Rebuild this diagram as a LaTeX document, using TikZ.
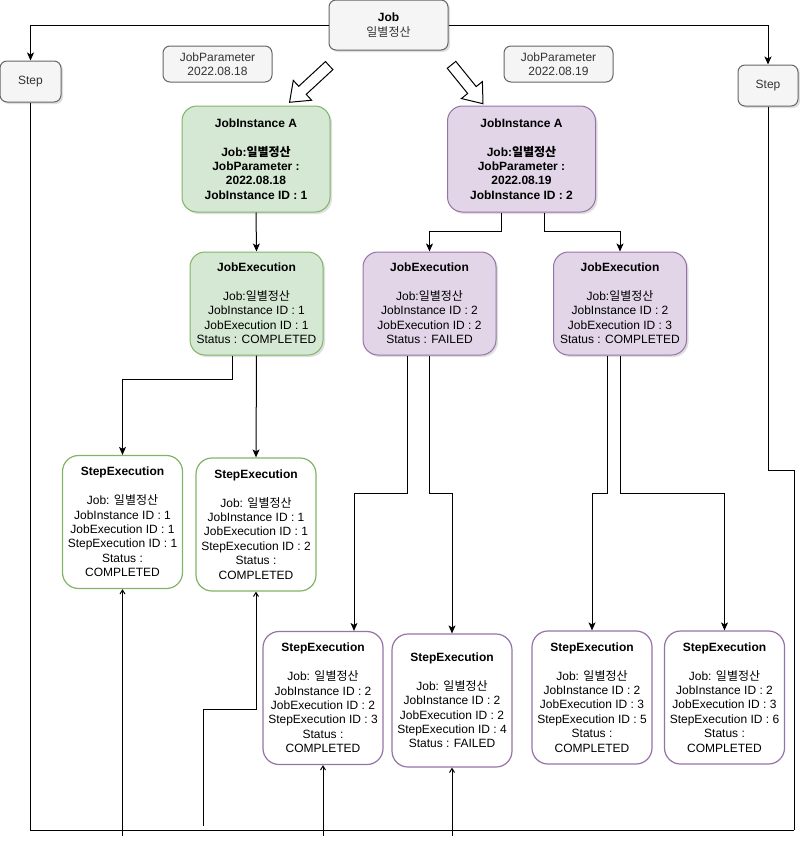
\documentclass[tikz,border=0pt]{standalone}
\usepackage{fontspec}
\setmainfont{Liberation Sans}
\newfontfamily\kr{Noto Sans CJK KR}
\newcommand{\ilbyul}{{\kr 일별정산}}
\usetikzlibrary{arrows.meta,shapes.arrows,shadows}
\definecolor{greyfill}{HTML}{F5F5F5}
\definecolor{greyline}{HTML}{666666}
\definecolor{greytext}{HTML}{333333}
\definecolor{greenfill}{HTML}{D5E8D4}
\definecolor{greenline}{HTML}{82B366}
\definecolor{purplefill}{HTML}{E1D5E7}
\definecolor{purpleline}{HTML}{9673A6}

\begin{document}
\begin{tikzpicture}[x=1pt,y=-1pt,font=\fontsize{12}{14.4}\selectfont,
    boxshadow/.style={drop shadow={shadow xshift=2pt,shadow yshift=-2pt,opacity=0.25}},
    greybox/.style={draw=greyline,fill=greyfill,text=greytext,rounded corners=7pt,line width=1pt,align=center,inner sep=0pt},
    instbox/.style={rounded corners=15pt,line width=1pt,align=center,inner sep=0pt,minimum width=148pt,minimum height=106pt,boxshadow},
    execbox/.style={rounded corners=15pt,line width=1pt,align=center,inner sep=0pt,minimum width=133pt,minimum height=103pt,boxshadow},
    stepbox/.style={rounded corners=16pt,line width=1.2pt,fill=white,align=center,inner sep=0pt,minimum width=120pt,minimum height=133pt},
    flow/.style={single arrow,draw,fill=white,line width=1pt,inner xsep=0pt,inner ysep=5pt,single arrow head extend=8pt,single arrow tip angle=75},
    arr/.style={line width=1pt,-{Stealth[length=8pt,width=7pt,inset=2pt]}},
    uparr/.style={line width=1pt,-{Straight Barb[length=4pt,width=5pt]}},
    line/.style={line width=1pt}]
    \useasboundingbox (0,0) rectangle (800,846);

    \node[greybox,boxshadow,minimum width=119pt,minimum height=50pt] (job) at (388.5,25) {\textcolor{black}{\textbf{Job}}\\\ilbyul};
    \node[greybox,boxshadow,minimum width=61pt,minimum height=41pt] (stepL) at (30.5,81.5) {Step};
    \node[greybox,boxshadow,minimum width=60pt,minimum height=41pt] (stepR) at (768,85.5) {Step};
    \node[greybox,minimum width=109pt,minimum height=36pt] (parA) at (217.5,64) {JobParameter\\2022.08.18};
    \node[greybox,minimum width=109pt,minimum height=36pt] (parB) at (558.5,64) {JobParameter\\2022.08.19};
    \node[flow,minimum height=54pt,rotate=222.8] (flowA) at (312,81.5) {};
    \node[flow,minimum height=50pt,rotate=-51] (flowB) at (465,81.5) {};

    \node[instbox,draw=greenline,fill=greenfill] (jiA) at (256,159) {\bfseries JobInstance A\\[14.4pt]\bfseries Job:\ilbyul\\\bfseries JobParameter :\\\bfseries 2022.08.18\\\bfseries JobInstance ID : 1};
    \node[instbox,draw=purpleline,fill=purplefill] (jiB) at (521.5,159) {\bfseries JobInstance A\\[14.4pt]\bfseries Job:\ilbyul\\\bfseries JobParameter :\\\bfseries 2022.08.19\\\bfseries JobInstance ID : 2};

    \node[execbox,draw=greenline,fill=greenfill] (jeA) at (256.5,303.5) {\textbf{JobExecution}\\[14.4pt]Job:\ilbyul\\JobInstance ID : 1\\JobExecution ID : 1\\Status : COMPLETED};
    \node[execbox,draw=purpleline,fill=purplefill] (jeB) at (429.5,303.5) {\textbf{JobExecution}\\[14.4pt]Job:\ilbyul\\JobInstance ID : 2\\JobExecution ID : 2\\Status : FAILED};
    \node[execbox,draw=purpleline,fill=purplefill] (jeC) at (620,303.5) {\textbf{JobExecution}\\[14.4pt]Job:\ilbyul\\JobInstance ID : 2\\JobExecution ID : 3\\Status : COMPLETED};

    \node[stepbox,draw=greenline] (seA) at (122.5,522) {\textbf{StepExecution}\\[14.4pt]Job: \ilbyul\\JobInstance ID : 1\\JobExecution ID : 1\\StepExecution ID : 1\\Status :\\COMPLETED};
    \node[stepbox,draw=greenline] (seB) at (256,524.5) {\textbf{StepExecution}\\[14.4pt]Job: \ilbyul\\JobInstance ID : 1\\JobExecution ID : 1\\StepExecution ID : 2\\Status :\\COMPLETED};
    \node[stepbox,draw=purpleline] (seC) at (323,698) {\textbf{StepExecution}\\[14.4pt]Job: \ilbyul\\JobInstance ID : 2\\JobExecution ID : 2\\StepExecution ID : 3\\Status :\\COMPLETED};
    \node[stepbox,draw=purpleline] (seD) at (452,700.5) {\textbf{StepExecution}\\[14.4pt]Job: \ilbyul\\JobInstance ID : 2\\JobExecution ID : 2\\StepExecution ID : 4\\Status : FAILED};
    \node[stepbox,draw=purpleline] (seE) at (592,697.5) {\textbf{StepExecution}\\[14.4pt]Job: \ilbyul\\JobInstance ID : 2\\JobExecution ID : 3\\StepExecution ID : 5\\Status :\\COMPLETED};
    \node[stepbox,draw=purpleline] (seF) at (724.5,697.5) {\textbf{StepExecution}\\[14.4pt]Job: \ilbyul\\JobInstance ID : 2\\JobExecution ID : 3\\StepExecution ID : 6\\Status :\\COMPLETED};

    \draw[arr] (job.west) -| (stepL.north);
    \draw[arr] (job.east) -| (stepR.north);
    \draw[arr] (jiA.south) -- (jeA.north);
    \draw[arr] ([xshift=-20pt]jiB.south) -- ++(0,19) -| (jeB.north);
    \draw[arr] ([xshift=23pt]jiB.south) -- ++(0,19) -| (jeC.north);
    \draw[arr] ([xshift=-24pt]jeA.south) -- ++(0,24) -| (seA.north);
    \draw[arr] (jeA.south) -- (seB.north);
    \draw[arr] ([xshift=-22pt]jeB.south) -- ++(0,138) -| ([xshift=31pt]seC.north);
    \draw[arr] (jeB.south) -- ++(0,138) -| (seD.north);
    \draw[arr] ([xshift=-13pt]jeC.south) -- ++(0,138) -| (seE.north);
    \draw[arr] (jeC.south) -- ++(0,138) -| (seF.north);

    \coordinate (corner) at (794,830);
    \draw[line] (stepL.south) |- (corner);
    \draw[line] (stepR.south) -- ++(0,364) -| (corner);
    \foreach \s in {seA,seC,seD}{
        \coordinate (\s-in) at (\s.south |- 0,836);
        \draw[uparr] (\s-in) -- (\s.south);
    }
    \coordinate (seB-in) at (203,826);
    \draw[uparr] (seB-in) -- (203,709) -| (seB.south);
\end{tikzpicture}
\end{document}
